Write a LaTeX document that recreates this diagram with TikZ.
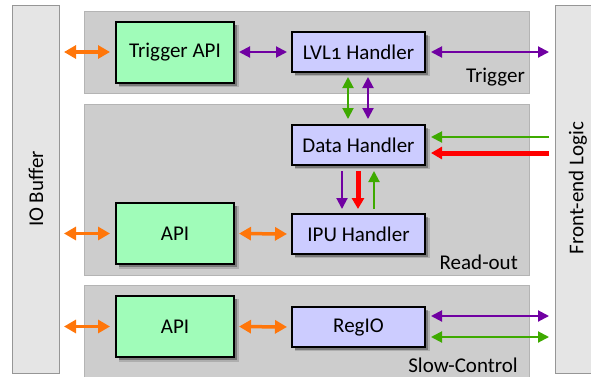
\documentclass[tikz,border=0pt]{standalone}
\usepackage{fontspec}
\setmainfont{Carlito}
\usetikzlibrary{arrows.meta,shadows,calc}

\definecolor{panelfill}{RGB}{205,205,205}
\definecolor{paneldraw}{RGB}{180,180,180}
\definecolor{barfill}{RGB}{229,229,229}
\definecolor{bardraw}{RGB}{150,150,150}
\definecolor{apigreen}{RGB}{160,252,185}
\definecolor{handlerblue}{RGB}{204,204,255}
\definecolor{linkorange}{RGB}{255,118,10}
\definecolor{linkpurple}{RGB}{112,0,162}
\definecolor{linkgreen}{RGB}{62,170,0}
\definecolor{linkred}{RGB}{255,0,0}

\tikzset{
  panel/.style={fill=panelfill,draw=paneldraw,line width=1pt},
  sidebar/.style={fill=barfill,draw=bardraw,line width=1pt},
  blockbox/.style={draw=black,line width=2pt,font=\fontsize{21}{24}\selectfont,
    general shadow={shadow xshift=4pt,shadow yshift=-4pt,shadow scale=1.02,opacity=0.15,fill=black},
    drop shadow={shadow xshift=3pt,shadow yshift=-3pt,opacity=0.3,fill=black}},
  apibox/.style={blockbox,fill=apigreen,minimum width=118pt,minimum height=61pt},
  handlerbox/.style={blockbox,fill=handlerblue,minimum width=133pt,minimum height=40pt},
  paneltitle/.style={font=\fontsize{21}{24}\selectfont,anchor=base east,inner sep=0pt},
  bartitle/.style={font=\fontsize{21}{24}\selectfont,rotate=90,inner sep=0pt},
  orangelink/.style={draw=linkorange,line width=3.5pt,{Triangle[length=12pt,width=13pt]}-{Triangle[length=12pt,width=13pt]}},
  purplelink/.style={draw=linkpurple,line width=2pt,{Triangle[length=11pt,width=11pt]}-{Triangle[length=11pt,width=11pt]}},
  greenlink/.style={draw=linkgreen,line width=2pt,{Triangle[length=11pt,width=11pt]}-{Triangle[length=11pt,width=11pt]}},
  purpleone/.style={draw=linkpurple,line width=2pt,-{Triangle[length=11pt,width=11pt]}},
  greenone/.style={draw=linkgreen,line width=2pt,-{Triangle[length=11pt,width=11pt]}},
  redone/.style={draw=linkred,line width=5pt,-{Triangle[length=11pt,width=12pt]}},
}

\begin{document}
\begin{tikzpicture}[x=1pt,y=-1pt]
\useasboundingbox (0,0) rectangle (591,376);

% side bars
\fill[white] (0,0) rectangle (591,376);
\draw[sidebar] (12,5) rectangle (59,373);
\draw[sidebar] (555,5) rectangle (610,373);
\node[bartitle] (iotitle) at (36,189) {IO Buffer};
\node[bartitle] (fetitle) at (578,188) {Front-end Logic};
\coordinate (io) at (59,189);
\coordinate (fe) at (555,189);

% functional panels
\draw[panel] (84,11) rectangle (529,93);
\draw[panel] (84,104) rectangle (529,275);
\draw[panel] (84,285) rectangle (529,390);
\node[paneltitle] (trgtitle) at (525,82) {Trigger};
\node[paneltitle] (rotitle) at (518,269) {Read-out};
\node[paneltitle] (sctitle) at (518,372) {Slow-Control};

% blocks
\node[apibox] (tapi) at (175,52) {Trigger API};
\node[apibox] (rapi) at (175,233.5) {API};
\node[apibox] (sapi) at (175,326.5) {API};
\node[handlerbox] (lvl) at (358.5,52) {LVL{\addfontfeatures{Numbers=OldStyle}1} Handler};
\node[handlerbox] (data) at (358.5,145) {Data Handler};
\node[handlerbox] (ipu) at (358.5,234) {IPU Handler};
\node[handlerbox] (regio) at (358.5,327) {RegIO};

% trigger links
\draw[orangelink,shorten <=5pt,shorten >=5pt] (io |- tapi) -- (tapi.west);
\draw[purplelink,shorten <=4pt,shorten >=4pt] (tapi.east) -- (lvl.west);
\draw[purplelink,shorten <=5pt,shorten >=6pt] (lvl.east) -- (fe |- lvl);
\draw[greenlink,shorten <=4pt,shorten >=5pt] ($(lvl.south)+(-10.5,0)$) -- ($(data.north)+(-10.5,0)$);
\draw[purplelink,shorten <=4pt,shorten >=5pt] ($(lvl.south)+(9.5,0)$) -- ($(data.north)+(9.5,0)$);

% read-out links
\draw[greenone,shorten <=6pt,shorten >=5pt] ($(fe)+(0,-52)$) -- ($(data.east)+(0,-8)$);
\draw[redone,shorten <=6pt,shorten >=5pt] ($(fe)+(0,-36)$) -- ($(data.east)+(0,8)$);
\draw[purpleone,shorten <=5pt,shorten >=4pt] ($(data.south)+(-16.5,0)$) -- ($(ipu.north)+(-16.5,0)$);
\draw[redone,shorten <=5pt,shorten >=4pt] ($(data.south)+(-0.5,0)$) -- ($(ipu.north)+(-0.5,0)$);
\draw[greenone,shorten <=4pt,shorten >=5pt] ($(ipu.north)+(15.5,0)$) -- ($(data.south)+(15.5,0)$);
\draw[orangelink,shorten <=5pt,shorten >=5pt] (io |- rapi) -- (rapi.west);
\draw[orangelink,shorten <=4pt,shorten >=4pt] (rapi.east) -- (ipu.west);

% slow-control links
\draw[orangelink,shorten <=5pt,shorten >=5pt] (io |- sapi) -- (sapi.west);
\draw[orangelink,shorten <=4pt,shorten >=4pt] (sapi.east) -- (regio.west);
\draw[purplelink,shorten <=5pt,shorten >=6pt] ($(regio.east)+(0,-11)$) -- ($(fe |- regio)+(0,-11)$);
\draw[greenlink,shorten <=5pt,shorten >=6pt] ($(regio.east)+(0,10)$) -- ($(fe |- regio)+(0,10)$);
\end{tikzpicture}
\end{document}
